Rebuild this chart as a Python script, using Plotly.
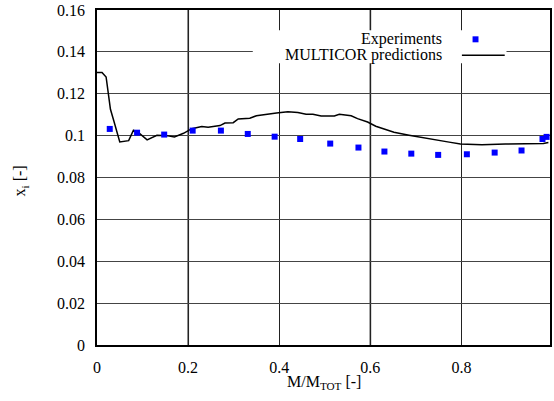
import plotly.graph_objects as go

# Experimental data (blue squares)
exp_x = [0.028, 0.088, 0.1475, 0.210, 0.272, 0.331, 0.390, 0.446, 0.512, 0.574,
         0.631, 0.690, 0.749, 0.812, 0.873, 0.932, 0.978, 0.987]
exp_y = [0.1032, 0.1014, 0.1005, 0.1024, 0.1024, 0.1008, 0.0995, 0.0984, 0.0962, 0.0943,
         0.0924, 0.0914, 0.0908, 0.0911, 0.0919, 0.0929, 0.0984, 0.0994]

# MULTICOR predictions (black line)
pred_x = [0.0, 0.011, 0.020, 0.0295, 0.037, 0.050, 0.0695, 0.080, 0.0914, 0.110,
          0.1316, 0.153, 0.170, 0.190, 0.208, 0.230, 0.244, 0.270, 0.281, 0.299,
          0.310, 0.3355, 0.350, 0.368, 0.394, 0.419, 0.441, 0.459, 0.474, 0.492,
          0.521, 0.532, 0.558, 0.572, 0.594, 0.612, 0.631, 0.652, 0.685, 0.714,
          0.744, 0.773, 0.798, 0.820, 0.845, 0.8966, 0.933, 0.980, 0.991]
pred_y = [0.1302, 0.1302, 0.1280, 0.1126, 0.1070, 0.0970, 0.0976, 0.1026, 0.1014, 0.0980,
          0.1002, 0.1000, 0.0994, 0.1011, 0.1033, 0.1043, 0.1040, 0.1048, 0.1060, 0.1062,
          0.1080, 0.1083, 0.1095, 0.1099, 0.1108, 0.1114, 0.1110, 0.1102, 0.1102, 0.1094,
          0.1094, 0.1102, 0.1095, 0.1081, 0.1065, 0.1045, 0.1033, 0.1016, 0.1002, 0.0990,
          0.0981, 0.0969, 0.0960, 0.0957, 0.0957, 0.0960, 0.0962, 0.0962, 0.0967]

x_ticks = [0, 0.2, 0.4, 0.6, 0.8]
x_tick_labels = ["0", "0.2", "0.4", "0.6", "0.8"]
y_ticks = [0, 0.02, 0.04, 0.06, 0.08, 0.1, 0.12, 0.14, 0.16]
y_tick_labels = ["0", "0.02", "0.04", "0.06", "0.08", "0.1", "0.12", "0.14", "0.16"]

series_names = ["Experiments", "MULTICOR predictions"]
x_title = "M/M<sub>TOT</sub> [-]"
y_title = "x<sub>i</sub> [-]"

FONT = "Liberation Serif, Times New Roman, DejaVu Serif, serif"
TXT = dict(family=FONT, size=16, color="black")

fig = go.Figure()
fig.add_trace(go.Scatter(x=pred_x, y=pred_y, mode="lines", name=series_names[1],
                         line=dict(color="black", width=1.5), showlegend=False))
fig.add_trace(go.Scatter(x=exp_x, y=exp_y, mode="markers", name=series_names[0],
                         marker=dict(symbol="square", size=6, color="#0000ff",
                                     line=dict(width=0)), showlegend=False))

# the 0.2 and 0.6 vertical grid lines appear grey and slightly heavier in the reference
shapes = [
    dict(type="line", xref="x", yref="paper", x0=x_ticks[i], x1=x_ticks[i], y0=0, y1=1,
         line=dict(color="#808080", width=2), layer="between")
    for i in (1, 3)
]
# gnuplot-style key: white box, right-aligned text, sample to the right
shapes += [
    dict(type="rect", xref="x", yref="y", x0=0.342, x1=0.899, y0=0.1346, y1=0.1503,
         fillcolor="white", line=dict(width=0), layer="above"),
    dict(type="line", xref="x", yref="y", x0=0.8011, x1=0.8951, y0=0.1384, y1=0.1384,
         line=dict(color="black", width=1.5), layer="above"),
    dict(type="rect", xref="x", yref="y", x0=0.8245, x1=0.8375, y0=0.14457, y1=0.14743,
         fillcolor="#0000ff", line=dict(width=0), layer="above"),
]
annotations = [
    dict(x=0.7617, y=0.1460, xref="x", yref="y", text=series_names[0], showarrow=False,
         xanchor="right", yanchor="middle", font=TXT),
    dict(x=0.7617, y=0.1384, xref="x", yref="y", text=series_names[1], showarrow=False,
         xanchor="right", yanchor="middle", font=TXT),
    dict(x=0.5016, y=-0.113, xref="paper", yref="paper", text=x_title, showarrow=False,
         xanchor="center", yanchor="middle", font=TXT),
    dict(x=-0.168, y=0.491, xref="paper", yref="paper", text=y_title, showarrow=False,
         textangle=-90, xanchor="center", yanchor="middle", font=TXT),
]

fig.update_layout(
    width=554, height=401,
    margin=dict(l=96.5, r=2, t=9, b=56),
    paper_bgcolor="white", plot_bgcolor="white",
    font=TXT,
    shapes=shapes, annotations=annotations,
    xaxis=dict(range=[0, 0.9945], tickvals=x_ticks, ticktext=x_tick_labels,
               tickfont=TXT,
               showgrid=True, gridcolor="#222222", gridwidth=1,
               showline=True, linecolor="black", linewidth=1.5, mirror=True,
               zeroline=False, ticks="", ticklabelstandoff=7),
    yaxis=dict(range=[0, 0.16], tickvals=y_ticks, ticktext=y_tick_labels,
               tickfont=TXT,
               showgrid=True, gridcolor="#444444", gridwidth=1,
               showline=True, linecolor="black", linewidth=1.5, mirror=True,
               zeroline=False, ticks="", ticklabelstandoff=7),
)

fig.write_html(
    "out.html",
    config={"displayModeBar": False},
    post_script="document.body.style.margin='0';document.body.style.overflow='hidden';",
)
